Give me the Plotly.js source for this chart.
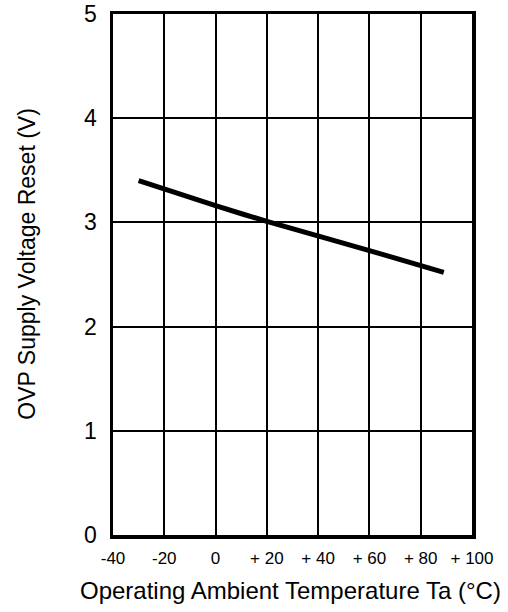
<!DOCTYPE html>
<html>
<head>
<meta charset="utf-8">
<script src="https://cdn.plot.ly/plotly-3.0.1.min.js"></script>
<style>html,body{margin:0;padding:0;background:#fff;}#chart{width:508px;height:612px;}</style>
</head>
<body>
<div id="chart"></div>
<script>
var temperature = [-30, 0, 20, 60, 89];
var voltage = [3.40, 3.16, 3.01, 2.73, 2.52];
var xTickVals = [-40, -20, 0, 20, 40, 60, 80, 100];
var xTickText = ["-40", "-20", "0", "+ 20", "+ 40", "+ 60", "+ 80", "+ 100"];
var yTickVals = [0, 1, 2, 3, 4, 5];
var xTitle = "Operating Ambient Temperature Ta (\u00B0C)";
var yTitle = "OVP Supply Voltage Reset (V)";

var trace = {
  x: temperature, y: voltage, type: "scatter", mode: "lines",
  line: {color: "#000", width: 5, shape: "spline", smoothing: 0.6}, hoverinfo: "skip"
};
var layout = {
  width: 508, height: 612,
  margin: {l: 113, r: 36, t: 14, b: 77},
  paper_bgcolor: "#fff", plot_bgcolor: "#fff",
  font: {family: "Liberation Sans, Arial, sans-serif", color: "#000", size: 17},
  showlegend: false,
  xaxis: {
    range: [-40, 100], tickvals: xTickVals, ticktext: xTickText,
    showgrid: true, gridcolor: "#000", gridwidth: 2,
    zeroline: false, showline: true, linecolor: "#000", linewidth: 3.5, mirror: true,
    ticks: "", ticklabelstandoff: 5, tickfont: {size: 17}, fixedrange: true
  },
  yaxis: {
    range: [0, 5], tickvals: yTickVals,
    showgrid: true, gridcolor: "#000", gridwidth: 2,
    zeroline: false, showline: true, linecolor: "#000", linewidth: 3.5, mirror: true,
    ticks: "", ticklabelstandoff: 8, tickfont: {size: 23}, fixedrange: true
  },
  annotations: [
    {text: xTitle, xref: "paper", yref: "paper", x: 0.495, y: -0.107, xanchor: "center", yanchor: "middle",
     showarrow: false, font: {size: 24}},
    {text: yTitle, xref: "paper", yref: "paper", x: -0.242, y: 0.521, xanchor: "center", yanchor: "middle",
     textangle: -90, showarrow: false, font: {size: 23}}
  ]
};
Plotly.newPlot("chart", [trace], layout, {displayModeBar: false, staticPlot: true});
</script>
</body>
</html>
